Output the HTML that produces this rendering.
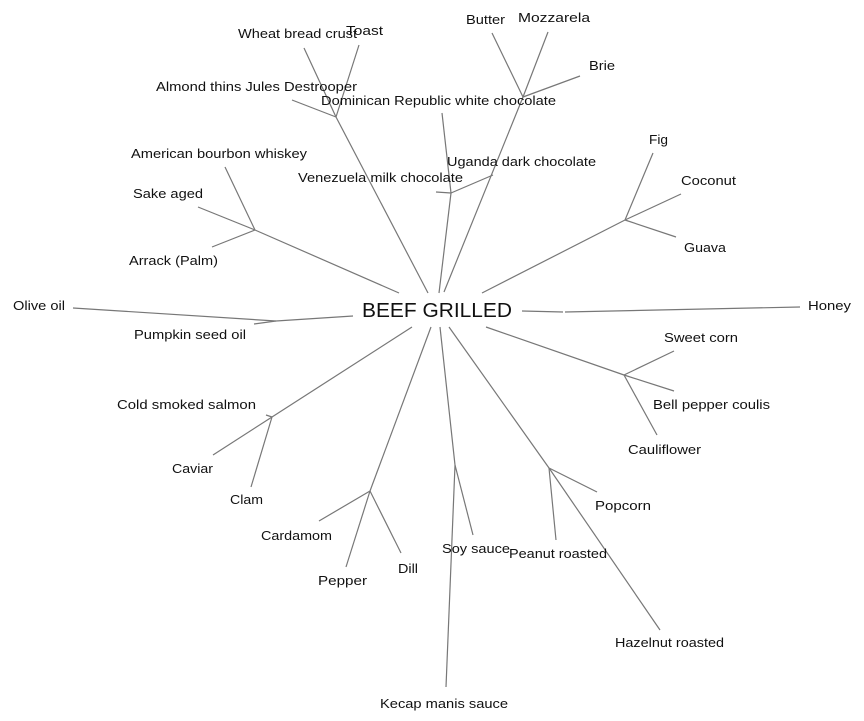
<!DOCTYPE html>
<html><head><meta charset="utf-8"><style>
html,body{margin:0;padding:0;background:#fff;}
svg{display:block;}
text{font-family:"Liberation Sans",Arial,sans-serif;font-size:13px;fill:#111;}
line{stroke:#777;stroke-width:1.2;}
</style></head><body>
<svg width="864" height="721" viewBox="0 0 864 721" xmlns="http://www.w3.org/2000/svg">
<g>
<!-- whiskey -->
<line x1="399" y1="293" x2="255" y2="230"/>
<line x1="255" y1="230" x2="225" y2="167"/>
<line x1="255" y1="230" x2="198" y2="207"/>
<line x1="255" y1="230" x2="212" y2="247"/>
<!-- wheat -->
<line x1="428" y1="293" x2="336" y2="117"/>
<line x1="336" y1="117" x2="304" y2="48"/>
<line x1="336" y1="117" x2="359" y2="45"/>
<line x1="336" y1="117" x2="292" y2="100"/>
<!-- chocolate -->
<line x1="439" y1="293" x2="451" y2="193"/>
<line x1="451" y1="193" x2="442" y2="113"/>
<line x1="451" y1="193" x2="493" y2="175"/>
<line x1="451" y1="193" x2="436" y2="192"/>
<!-- butter -->
<line x1="444" y1="292" x2="523" y2="97"/>
<line x1="523" y1="97" x2="492" y2="33"/>
<line x1="523" y1="97" x2="548" y2="32"/>
<line x1="523" y1="97" x2="580" y2="76"/>
<!-- fig -->
<line x1="482" y1="293" x2="625" y2="220"/>
<line x1="625" y1="220" x2="653" y2="153"/>
<line x1="625" y1="220" x2="681" y2="194"/>
<line x1="625" y1="220" x2="676" y2="237"/>
<!-- honey -->
<line x1="522" y1="311" x2="563" y2="312"/>
<line x1="565" y1="312" x2="800" y2="307"/>
<!-- olive -->
<line x1="353" y1="316" x2="276" y2="321"/>
<line x1="276" y1="321" x2="73" y2="308"/>
<line x1="276" y1="321" x2="254" y2="324"/>
<!-- salmon -->
<line x1="412" y1="327" x2="272" y2="417"/>
<line x1="272" y1="417" x2="266" y2="415"/>
<line x1="272" y1="417" x2="213" y2="455"/>
<line x1="272" y1="417" x2="251" y2="487"/>
<!-- cardamom -->
<line x1="431" y1="327" x2="370" y2="491"/>
<line x1="370" y1="491" x2="319" y2="521"/>
<line x1="370" y1="491" x2="346" y2="567"/>
<line x1="370" y1="491" x2="401" y2="553"/>
<!-- soy/kecap -->
<line x1="440" y1="327" x2="455" y2="465"/>
<line x1="455" y1="465" x2="473" y2="535"/>
<line x1="455" y1="465" x2="446" y2="687"/>
<!-- peanut -->
<line x1="449" y1="327" x2="549" y2="468"/>
<line x1="549" y1="468" x2="597" y2="492"/>
<line x1="549" y1="468" x2="556" y2="540"/>
<line x1="549" y1="468" x2="660" y2="630"/>
<!-- sweet corn -->
<line x1="486" y1="327" x2="624" y2="375"/>
<line x1="624" y1="375" x2="674" y2="351"/>
<line x1="624" y1="375" x2="674" y2="391"/>
<line x1="624" y1="375" x2="657" y2="435"/>
</g>
<text x="362" y="317" style="font-size:20px" textLength="150" lengthAdjust="spacingAndGlyphs">BEEF GRILLED</text>
<text x="238" y="38" textLength="119" lengthAdjust="spacingAndGlyphs">Wheat bread crust</text>
<text x="346" y="35" textLength="37" lengthAdjust="spacingAndGlyphs">Toast</text>
<text x="466" y="24" textLength="39" lengthAdjust="spacingAndGlyphs">Butter</text>
<text x="518" y="22" textLength="72" lengthAdjust="spacingAndGlyphs">Mozzarela</text>
<text x="589" y="70" textLength="26" lengthAdjust="spacingAndGlyphs">Brie</text>
<text x="156" y="91" textLength="201" lengthAdjust="spacingAndGlyphs">Almond thins Jules Destrooper</text>
<text x="321" y="105" textLength="235" lengthAdjust="spacingAndGlyphs">Dominican Republic white chocolate</text>
<text x="131" y="158" textLength="176" lengthAdjust="spacingAndGlyphs">American bourbon whiskey</text>
<text x="447" y="166" textLength="149" lengthAdjust="spacingAndGlyphs">Uganda dark chocolate</text>
<text x="298" y="182" textLength="165" lengthAdjust="spacingAndGlyphs">Venezuela milk chocolate</text>
<text x="649" y="144" textLength="19" lengthAdjust="spacingAndGlyphs">Fig</text>
<text x="681" y="185" textLength="55" lengthAdjust="spacingAndGlyphs">Coconut</text>
<text x="133" y="198" textLength="70" lengthAdjust="spacingAndGlyphs">Sake aged</text>
<text x="684" y="252" textLength="42" lengthAdjust="spacingAndGlyphs">Guava</text>
<text x="129" y="265" textLength="89" lengthAdjust="spacingAndGlyphs">Arrack (Palm)</text>
<text x="13" y="310" textLength="52" lengthAdjust="spacingAndGlyphs">Olive oil</text>
<text x="808" y="310" textLength="43" lengthAdjust="spacingAndGlyphs">Honey</text>
<text x="134" y="339" textLength="112" lengthAdjust="spacingAndGlyphs">Pumpkin seed oil</text>
<text x="664" y="342" textLength="74" lengthAdjust="spacingAndGlyphs">Sweet corn</text>
<text x="117" y="409" textLength="139" lengthAdjust="spacingAndGlyphs">Cold smoked salmon</text>
<text x="653" y="409" textLength="117" lengthAdjust="spacingAndGlyphs">Bell pepper coulis</text>
<text x="628" y="454" textLength="73" lengthAdjust="spacingAndGlyphs">Cauliflower</text>
<text x="172" y="473" textLength="41" lengthAdjust="spacingAndGlyphs">Caviar</text>
<text x="230" y="504" textLength="33" lengthAdjust="spacingAndGlyphs">Clam</text>
<text x="595" y="510" textLength="56" lengthAdjust="spacingAndGlyphs">Popcorn</text>
<text x="261" y="540" textLength="71" lengthAdjust="spacingAndGlyphs">Cardamom</text>
<text x="442" y="553" textLength="68" lengthAdjust="spacingAndGlyphs">Soy sauce</text>
<text x="509" y="558" textLength="98" lengthAdjust="spacingAndGlyphs">Peanut roasted</text>
<text x="398" y="573" textLength="20" lengthAdjust="spacingAndGlyphs">Dill</text>
<text x="318" y="585" textLength="49" lengthAdjust="spacingAndGlyphs">Pepper</text>
<text x="615" y="647" textLength="109" lengthAdjust="spacingAndGlyphs">Hazelnut roasted</text>
<text x="380" y="708" textLength="128" lengthAdjust="spacingAndGlyphs">Kecap manis sauce</text>
</svg>
</body></html>
